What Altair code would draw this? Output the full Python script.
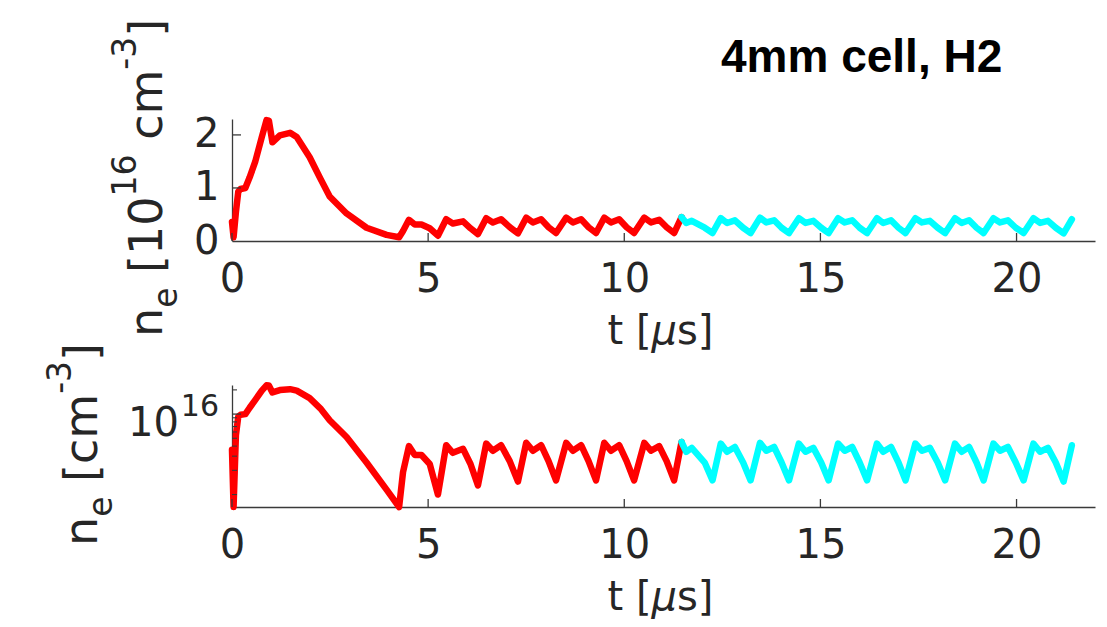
import altair as alt
import pandas as pd

# ---------------- data (n in units of 1e16 cm^-3, t in microseconds) ----------------
t_red = [0.00, 0.04, 0.10, 0.16, 0.22, 0.34, 0.45, 0.59, 0.76, 0.88, 0.94, 1.03, 1.22, 1.48,
         1.65, 1.98, 2.25, 2.49, 2.92, 3.43, 3.94, 4.26, 4.36, 4.51, 4.66, 4.83, 5.04, 5.25,
         5.46, 5.63, 5.89, 6.08, 6.27, 6.48, 6.65, 6.86, 7.08, 7.29, 7.50, 7.67, 7.88, 8.07,
         8.26, 8.52, 8.69, 8.90, 9.09, 9.28, 9.49, 9.66, 9.87, 10.06, 10.25, 10.51, 10.68,
         10.89, 11.08, 11.27, 11.46]
n_red = [0.36, 0.07, 0.55, 0.93, 0.98, 1.00, 1.20, 1.49, 1.96, 2.28, 2.27, 1.86, 1.99, 2.04,
         1.96, 1.58, 1.18, 0.84, 0.52, 0.25, 0.115, 0.07, 0.19, 0.40, 0.31, 0.31, 0.24, 0.10,
         0.41, 0.33, 0.37, 0.24, 0.13, 0.43, 0.35, 0.41, 0.26, 0.145, 0.44, 0.35, 0.41, 0.26,
         0.15, 0.44, 0.35, 0.41, 0.26, 0.15, 0.44, 0.35, 0.41, 0.26, 0.15, 0.44, 0.35,
         0.40, 0.26, 0.15, 0.45]

t_cyan = [11.46, 11.58, 11.72, 12.05, 12.25,
          12.46, 12.62, 12.82, 13.03, 13.22,
          13.46, 13.62, 13.82, 14.01, 14.20,
          14.45, 14.62, 14.82, 15.02, 15.21,
          15.45, 15.62, 15.81, 16.00, 16.19,
          16.44, 16.60, 16.80, 16.99, 17.17,
          17.42, 17.59, 17.79, 17.99, 18.18,
          18.43, 18.60, 18.79, 18.98, 19.16,
          19.41, 19.58, 19.78, 19.98, 20.18,
          20.43, 20.60, 20.80, 21.00, 21.20,
          21.41]
n_cyan = [0.45, 0.34, 0.38, 0.25, 0.15,
          0.43, 0.34, 0.39, 0.25, 0.15,
          0.44, 0.35, 0.39, 0.25, 0.15,
          0.43, 0.34, 0.38, 0.25, 0.15,
          0.43, 0.35, 0.39, 0.25, 0.15,
          0.43, 0.34, 0.39, 0.25, 0.15,
          0.43, 0.35, 0.38, 0.25, 0.15,
          0.43, 0.34, 0.39, 0.25, 0.15,
          0.43, 0.35, 0.39, 0.25, 0.15,
          0.43, 0.34, 0.38, 0.25, 0.145,
          0.41]

x_ticks = [0, 5, 10, 15, 20]
y_ticks_lin = [0, 1, 2]
y_tick_major_log = [1e16]
y_ticks_minor_log = [1e15, 2e15, 3e15, 4e15, 5e15, 6e15, 7e15, 8e15, 9e15, 2e16]

title_text = "4mm cell, H2"
# rich-text labels: (text, role) with role main / sub / sup / italic
x_title_parts = [("t [", "main"), ("μ", "italic"), ("s]", "main")]
y_title_top_parts = [("n", "main"), ("e", "sub"), (" [10", "main"), ("16", "sup"),
                     (" cm", "main"), ("-3", "sup"), ("]", "main")]
y_title_bottom_parts = [("n", "main"), ("e", "sub"), (" [cm", "main"), ("-3", "sup"),
                        ("]", "main")]
log_label_base = "10"
log_label_exp = "16"

# ---------------- styling ----------------
W, H = 863, 122
AX = "#3a3a3a"
TXT = "#262626"
FONT = "DejaVu Sans"
LW = 6.5

# DejaVu Sans advance widths (em) used to lay out the rich-text labels
ADV = {"n": 0.634, "e": 0.615, " ": 0.318, "[": 0.390, "]": 0.390, "0": 0.636,
       "1": 0.636, "3": 0.636, "6": 0.636, "c": 0.550, "m": 0.974, "-": 0.361,
       "t": 0.392, "s": 0.521, "μ": 0.636}

red = pd.DataFrame({"t": t_red, "n": n_red})
red["n_abs"] = red["n"] * 1e16
cyan = pd.DataFrame({"t": t_cyan, "n": n_cyan})
cyan["n_abs"] = cyan["n"] * 1e16
one = pd.DataFrame({"a": [0]})

xscale = alt.Scale(domain=[0, 22], nice=False, zero=False)
x_axis = alt.Axis(values=x_ticks, tickSize=0, labelFontSize=40, labelFont=FONT,
                  labelColor=TXT, labelPadding=18, labelFlush=False, labelOverlap=False,
                  domainColor=AX, domainWidth=1.3, grid=False, title=None, format="d")

ylin = alt.Scale(domain=[0, 2.3], nice=False, zero=False)
y_axis_lin = alt.Axis(values=y_ticks_lin, tickSize=0, labelFontSize=40, labelFont=FONT,
                      labelColor=TXT, labelPadding=13, domainColor=AX, domainWidth=1.3,
                      grid=False, title=None, format="d")

ylog = alt.Scale(type="log", domain=[7e14, 2.3e16], nice=False)
y_axis_log = alt.Axis(values=y_tick_major_log, labels=False, ticks=False, domainColor=AX,
                      domainWidth=1.3, grid=False, title=None)


def lines(yfield, yscale, yaxis):
    r = alt.Chart(red).mark_line(color="#ff0000", strokeWidth=LW, strokeJoin="round",
                                 strokeCap="round").encode(
        x=alt.X("t:Q", scale=xscale, axis=x_axis),
        y=alt.Y(yfield, scale=yscale, axis=yaxis))
    c = alt.Chart(cyan).mark_line(color="#00ffff", strokeWidth=LW, strokeJoin="round",
                                  strokeCap="round").encode(
        x=alt.X("t:Q", scale=xscale, axis=x_axis),
        y=alt.Y(yfield, scale=yscale, axis=yaxis))
    return [r, c]


def x_tick_layer():
    return alt.Chart(pd.DataFrame({"t": x_ticks})).mark_rule(
        color=AX, strokeWidth=1.3).encode(
        x=alt.X("t:Q", scale=xscale, axis=x_axis),
        y=alt.value(H), y2=alt.value(H - 8))


def rich_text(parts, x0, y0, rotated, main=46, script=33, sup_shift=26, sub_shift=15):
    """Lay out a label made of pieces; for rotated text the run goes upward."""
    layers = []
    pos = 0.0
    for text, role in parts:
        size = main if role in ("main", "italic") else script
        shift = -sup_shift if role == "sup" else (sub_shift if role == "sub" else 0)
        # leading spaces are collapsed by SVG, so advance over them explicitly
        stripped = text.lstrip(" ")
        pos += (len(text) - len(stripped)) * ADV[" "] * size
        kw = dict(align="left", baseline="alphabetic", font=FONT, fontSize=size, color=TXT)
        if role == "italic":
            kw["fontStyle"] = "italic"
        if rotated:
            mk = alt.Chart(one).mark_text(angle=270, **kw).encode(
                x=alt.value(x0 + shift), y=alt.value(y0 - pos), text=alt.value(stripped))
        else:
            mk = alt.Chart(one).mark_text(**kw).encode(
                x=alt.value(x0 + pos), y=alt.value(y0 + shift), text=alt.value(stripped))
        layers.append(mk)
        pos += sum(ADV[ch] for ch in stripped) * size
    return layers


def x_title_layers():
    width = sum(ADV[ch] for p, _ in x_title_parts for ch in p) * 40
    return rich_text(x_title_parts, W / 2 - 3 - width / 2, H + 103, False, main=40, script=30)


# ---------------- top panel ----------------
top_yticks = alt.Chart(pd.DataFrame({"n": [1, 2]})).mark_rule(
    color=AX, strokeWidth=1.3).encode(
    y=alt.Y("n:Q", scale=ylin, axis=y_axis_lin), x=alt.value(0), x2=alt.value(9))

top_title = alt.Chart(pd.DataFrame({"s": [title_text]})).mark_text(
    align="left", baseline="alphabetic", font="Liberation Sans", fontSize=46,
    fontWeight="bold", color="black").encode(x=alt.value(489), y=alt.value(-47), text="s:N")

anchor_tl = alt.Chart(one).mark_rule(color="white", strokeWidth=1).encode(
    x=alt.value(-231.5), x2=alt.value(-230.5), y=alt.value(-118.5))

top = alt.layer(*lines("n:Q", ylin, y_axis_lin), x_tick_layer(), top_yticks,
                *rich_text(y_title_top_parts, -70, 218, True),
                top_title, *x_title_layers(), anchor_tl).properties(width=W, height=H)

# ---------------- bottom panel ----------------
bot_minor = alt.Chart(pd.DataFrame({"n_abs": y_ticks_minor_log})).mark_rule(
    color=AX, strokeWidth=1.1).encode(
    y=alt.Y("n_abs:Q", scale=ylog, axis=y_axis_log), x=alt.value(0), x2=alt.value(5))
bot_major = alt.Chart(pd.DataFrame({"n_abs": y_tick_major_log})).mark_rule(
    color=AX, strokeWidth=1.3).encode(
    y=alt.Y("n_abs:Q", scale=ylog, axis=y_axis_log), x=alt.value(0), x2=alt.value(9))
bot_lab_base = alt.Chart(pd.DataFrame({"n_abs": y_tick_major_log, "s": [log_label_base]})).mark_text(
    align="right", baseline="alphabetic", dy=22, font=FONT, fontSize=40, color=TXT).encode(
    y=alt.Y("n_abs:Q", scale=ylog, axis=y_axis_log), x=alt.value(-53), text="s:N")
bot_lab_exp = alt.Chart(pd.DataFrame({"n_abs": y_tick_major_log, "s": [log_label_exp]})).mark_text(
    align="right", baseline="alphabetic", dy=2, font=FONT, fontSize=30, color=TXT).encode(
    y=alt.Y("n_abs:Q", scale=ylog, axis=y_axis_log), x=alt.value(-13), text="s:N")

anchor_br = alt.Chart(one).mark_rule(color="white", strokeWidth=1).encode(
    x=alt.value(873.5), x2=alt.value(874.5), y=alt.value(241.5))

bottom = alt.layer(*lines("n_abs:Q", ylog, y_axis_log), x_tick_layer(), bot_minor,
                   bot_major, bot_lab_base, bot_lab_exp,
                   *rich_text(y_title_bottom_parts, -135, 161, True),
                   *x_title_layers(), anchor_br).properties(width=W, height=H)

chart = alt.vconcat(top, bottom, spacing=144, bounds="flush").resolve_scale(
    x="independent", y="independent").properties(
    padding=0, background="white").configure_view(stroke=None)

chart.save("out.html", embed_options={"renderer": "svg", "actions": False})
